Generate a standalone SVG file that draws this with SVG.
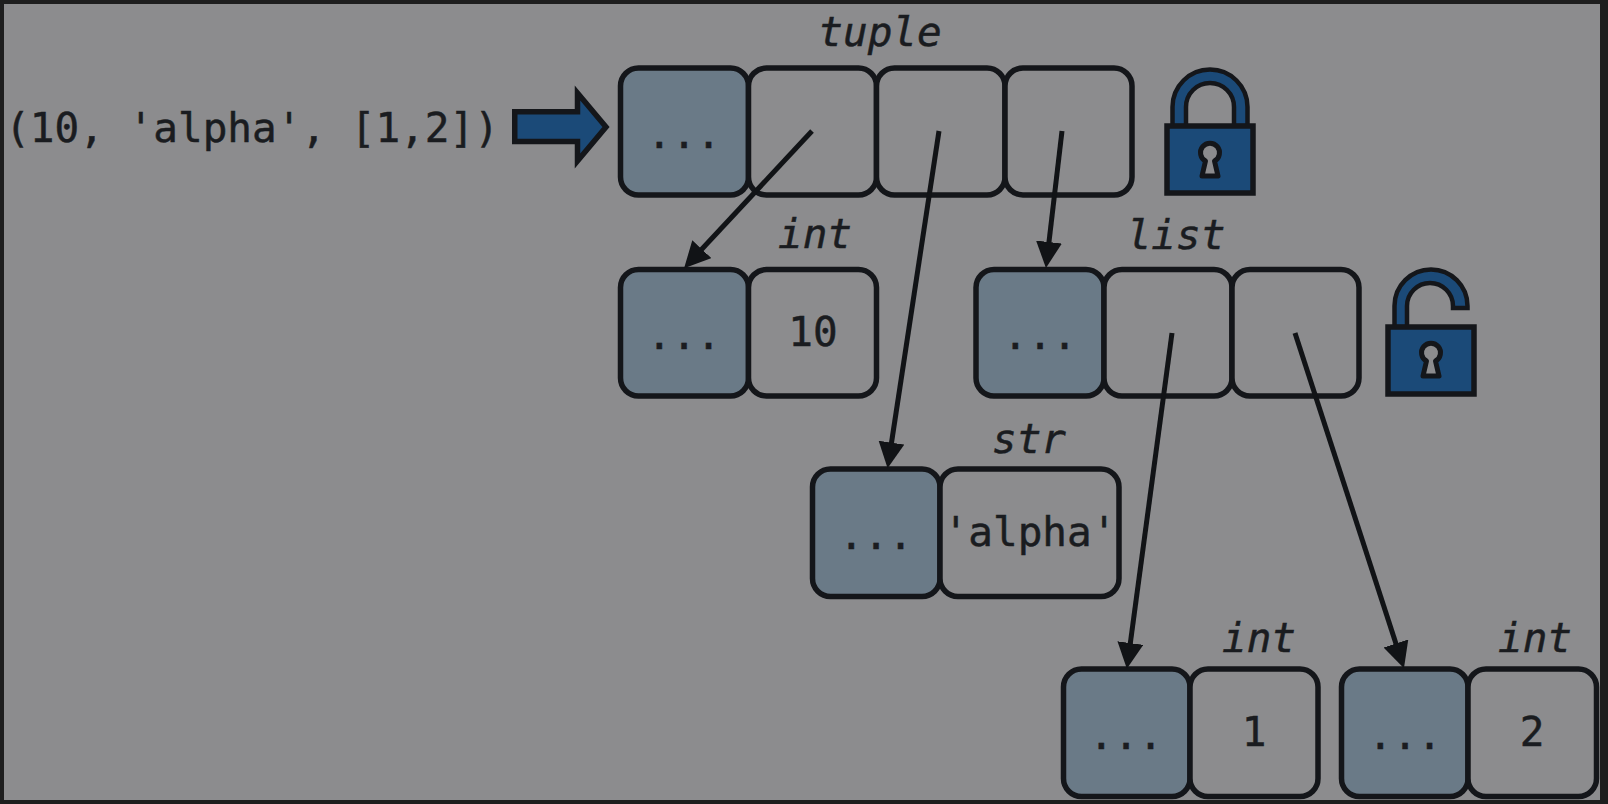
<svg xmlns="http://www.w3.org/2000/svg" width="1608" height="804" viewBox="0 0 1608 804">
<style>
.cell{stroke:#14161a;stroke-width:5.500;fill:#8c8c8e}
.head{stroke:#14161a;stroke-width:5.500;fill:#6a7a87}
.ic{stroke:#14161a;stroke-width:5.500;fill:#1b4a78;stroke-linejoin:miter}
.sh{stroke:#14161a;stroke-width:4.500;fill:#1b4a78;stroke-linejoin:miter}
.hole{stroke:#14161a;stroke-width:5;fill:#8c8c8e;stroke-linejoin:round}
.conn{stroke:#111316;stroke-width:5;fill:none}
text{font-family:"DejaVu Sans Mono","Liberation Mono",monospace;font-size:41px;fill:#1a1c20;stroke:#1a1c20;stroke-width:.5;text-anchor:middle}
.type{font-style:italic}
</style>
<defs>
<marker id="ah" markerUnits="userSpaceOnUse" markerWidth="30" markerHeight="30" refX="10" refY="13" orient="auto">
<path d="M0,0L26,13L0,26Z" fill="#111316"/>
</marker>
</defs>
<rect width="1608" height="804" fill="#1e1e1e"/>
<rect x="4" y="4" width="1596" height="796" fill="#8c8c8e"/>
<g id="input">
<text x="252" y="142">(10, 'alpha', [1,2])</text>
<path class="ic" d="M514.750,111.750H577.500V93L606,127L577.500,161V141.500H514.750Z"/>
</g>
<g id="tuple">
<text class="type" x="880" y="46">tuple</text>
<rect class="head" x="620.500" y="68" width="128" height="127" rx="18"/>
<rect class="cell" x="748.500" y="68" width="128" height="127" rx="18"/>
<rect class="cell" x="876.500" y="68" width="128.500" height="127" rx="18"/>
<rect class="cell" x="1005" y="68" width="127" height="127" rx="18"/>
<text x="684" y="148">...</text>
</g>
<g id="lock-closed">
<path class="sh" d="M1172.500,126V107A37.500,37.500 0 0 1 1247.500,107V126H1234V107A24,24 0 0 0 1186,107V126Z"/>
<rect class="ic" x="1167" y="126" width="86" height="67"/>
<path class="hole" d="M1202,176L1205.500,161A9.500,9.500 0 1 1 1214.500,161L1218,176Z"/>
</g>
<g id="int-10">
<text class="type" x="815" y="248">int</text>
<rect class="head" x="620.500" y="269.500" width="128" height="126.500" rx="18"/>
<rect class="cell" x="748.500" y="269.500" width="128" height="126.500" rx="18"/>
<text x="684" y="349">...</text>
<text x="813" y="346">10</text>
</g>
<g id="list">
<text class="type" x="1176" y="249">list</text>
<rect class="head" x="976" y="269.500" width="128" height="126.500" rx="18"/>
<rect class="cell" x="1104" y="269.500" width="128" height="126.500" rx="18"/>
<rect class="cell" x="1232" y="269.500" width="127" height="126.500" rx="18"/>
<text x="1040" y="349">...</text>
</g>
<g id="lock-open">
<path class="sh" d="M1394.500,327V306A36.500,36.500 0 0 1 1467.500,306V308H1453V306A23,23 0 0 0 1407,306V327Z"/>
<rect class="ic" x="1388" y="327" width="86" height="67"/>
<path class="hole" d="M1423,376L1426.500,361A9.500,9.500 0 1 1 1435.500,361L1439,376Z"/>
</g>
<g id="str">
<text class="type" x="1029" y="453">str</text>
<rect class="head" x="812.500" y="469" width="127.500" height="127.500" rx="18"/>
<rect class="cell" x="940" y="469" width="179" height="127.500" rx="18"/>
<text x="876" y="549">...</text>
<text x="1030" y="546">'alpha'</text>
</g>
<g id="int-1">
<text class="type" x="1259" y="652">int</text>
<rect class="head" x="1063.500" y="669" width="126.500" height="127.500" rx="18"/>
<rect class="cell" x="1190" y="669" width="128" height="127.500" rx="18"/>
<text x="1126" y="749">...</text>
<text x="1254" y="746">1</text>
</g>
<g id="int-2">
<text class="type" x="1535" y="652">int</text>
<rect class="head" x="1341.500" y="669" width="126.500" height="127.500" rx="18"/>
<rect class="cell" x="1468" y="669" width="128.500" height="127.500" rx="18"/>
<text x="1405" y="749">...</text>
<text x="1532" y="746">2</text>
</g>
<g id="connectors" class="conn">
<line x1="812" y1="131" x2="695" y2="256.500" marker-end="url(#ah)"/>
<line x1="939" y1="131" x2="890" y2="452.500" marker-end="url(#ah)"/>
<line x1="1062" y1="131" x2="1047.800" y2="252" marker-end="url(#ah)"/>
<line x1="1172" y1="333" x2="1129" y2="653" marker-end="url(#ah)"/>
<line x1="1295" y1="333" x2="1399" y2="653" marker-end="url(#ah)"/>
</g>
</svg>
